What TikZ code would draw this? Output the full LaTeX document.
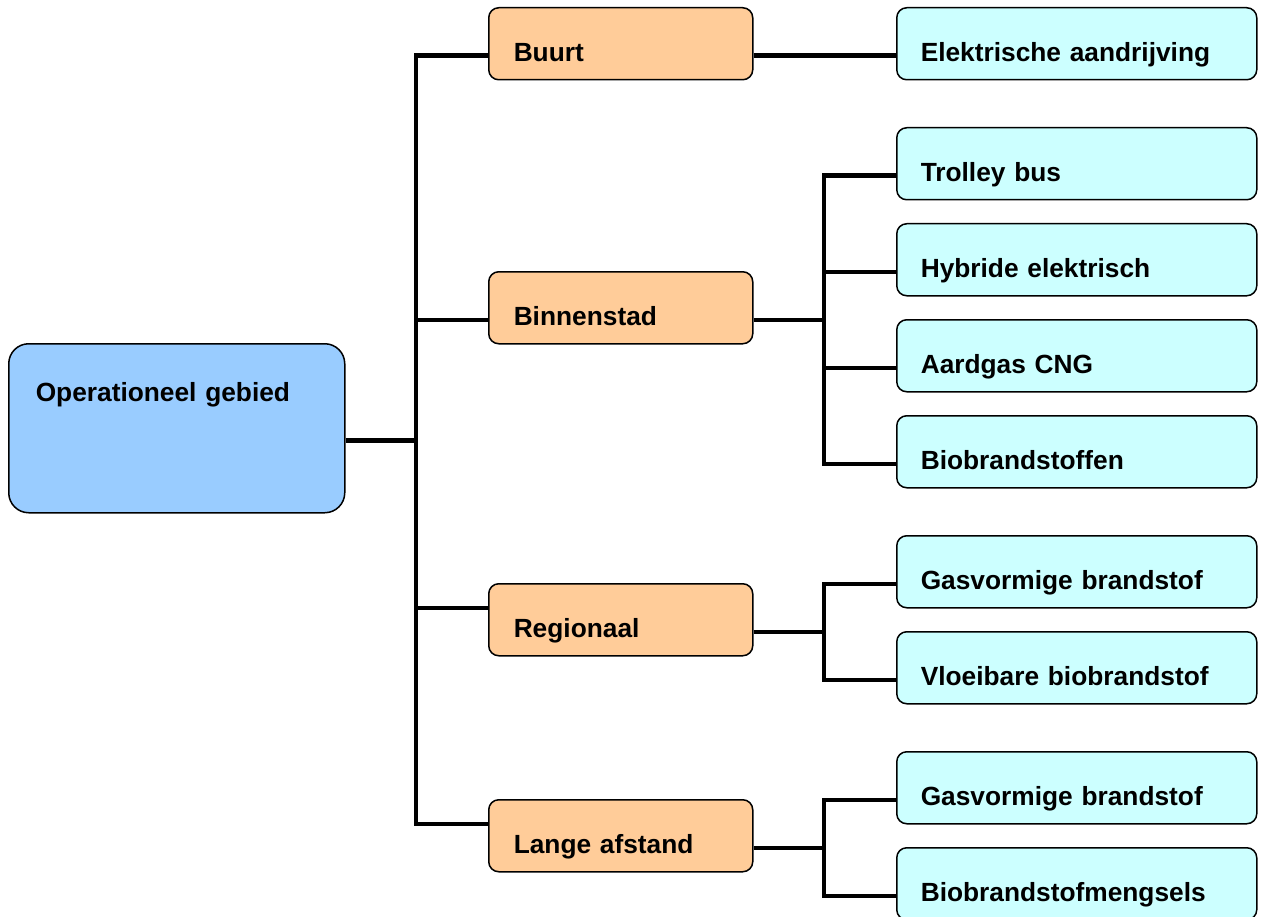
\documentclass[tikz,border=0pt]{standalone}
\usepackage{fontspec}
\setmainfont{Liberation Sans}
\begin{document}
\begin{tikzpicture}[x=1pt,y=-1pt,
  every node/.style={font=\fontsize{26.3}{30}\selectfont\bfseries, align=left, anchor=north west, draw=black, line width=1.5pt, inner ysep=0pt},
  rootbox/.style={fill={rgb,255:red,153;green,204;blue,255}, rounded corners=20pt, inner xsep=27pt, text width=282pt, text height=58pt, text depth=111pt},
  midbox/.style={fill={rgb,255:red,255;green,204;blue,153}, rounded corners=10pt, inner xsep=25pt, text width=214pt, text height=54pt, text depth=18pt},
  leafbox/.style={fill={rgb,255:red,204;green,255;blue,255}, rounded corners=10pt, inner xsep=24pt, text width=312pt, text height=54pt, text depth=18pt},
  conn/.style={line width=4.5pt, line cap=rect}]
\useasboundingbox (0,0) rectangle (1265,917);
\node[rootbox] (root) at (8,343) {Operationeel gebied};
\node[midbox] (buurt) at (488,7) {Buurt};
\node[midbox] (binnen) at (488,271) {Binnenstad};
\node[midbox] (regio) at (488,583) {Regionaal};
\node[midbox] (lange) at (488,799) {Lange afstand};
\node[leafbox] (elek) at (896,7) {Elektrische aandrijving};
\node[leafbox] (trolley) at (896,127) {Trolley bus};
\node[leafbox] (hybride) at (896,223) {Hybride elektrisch};
\node[leafbox] (aardgas) at (896,319) {Aardgas CNG};
\node[leafbox] (bio) at (896,415) {Biobrandstoffen};
\node[leafbox] (gas1) at (896,535) {Gasvormige brandstof};
\node[leafbox] (vloei) at (896,631) {Vloeibare biobrandstof};
\node[leafbox] (gas2) at (896,751) {Gasvormige brandstof};
\node[leafbox] (mengsels) at (896,847) {Biobrandstofmengsels};
% trunk level 1
\coordinate (t1) at (416,0);
\draw[conn, line cap=butt] ([yshift=-12pt]root.east) -- ([yshift=-12pt]root.east -| t1);
\draw[conn] ([yshift=-12pt]buurt.west -| t1) -- ([yshift=12pt]lange.west -| t1);
\foreach \n in {buurt,binnen}
  \draw[conn, line cap=butt] ([yshift=-12pt]\n.west -| t1) -- ([yshift=-12pt]\n.west);
\foreach \n in {regio,lange}
  \draw[conn, line cap=butt] ([yshift=12pt]\n.west -| t1) -- ([yshift=12pt]\n.west);
% buurt to leaf
\draw[conn, line cap=butt] ([yshift=-12pt]buurt.east) -- ([yshift=-12pt]elek.west);
% level 2 trunks
\coordinate (t2) at (824,0);
\draw[conn, line cap=butt] ([yshift=-12pt]binnen.east) -- ([yshift=-12pt]binnen.east -| t2);
\draw[conn] ([yshift=-12pt]trolley.west -| t2) -- ([yshift=-12pt]bio.west -| t2);
\foreach \n in {trolley,hybride,aardgas,bio}
  \draw[conn, line cap=butt] ([yshift=-12pt]\n.west -| t2) -- ([yshift=-12pt]\n.west);
\draw[conn, line cap=butt] ([yshift=-12pt]regio.east) -- ([yshift=-12pt]regio.east -| t2);
\draw[conn] ([yshift=-12pt]gas1.west -| t2) -- ([yshift=-12pt]vloei.west -| t2);
\foreach \n in {gas1,vloei}
  \draw[conn, line cap=butt] ([yshift=-12pt]\n.west -| t2) -- ([yshift=-12pt]\n.west);
\draw[conn, line cap=butt] ([yshift=-12pt]lange.east) -- ([yshift=-12pt]lange.east -| t2);
\draw[conn] ([yshift=-12pt]gas2.west -| t2) -- ([yshift=-12pt]mengsels.west -| t2);
\foreach \n in {gas2,mengsels}
  \draw[conn, line cap=butt] ([yshift=-12pt]\n.west -| t2) -- ([yshift=-12pt]\n.west);
\end{tikzpicture}
\end{document}
